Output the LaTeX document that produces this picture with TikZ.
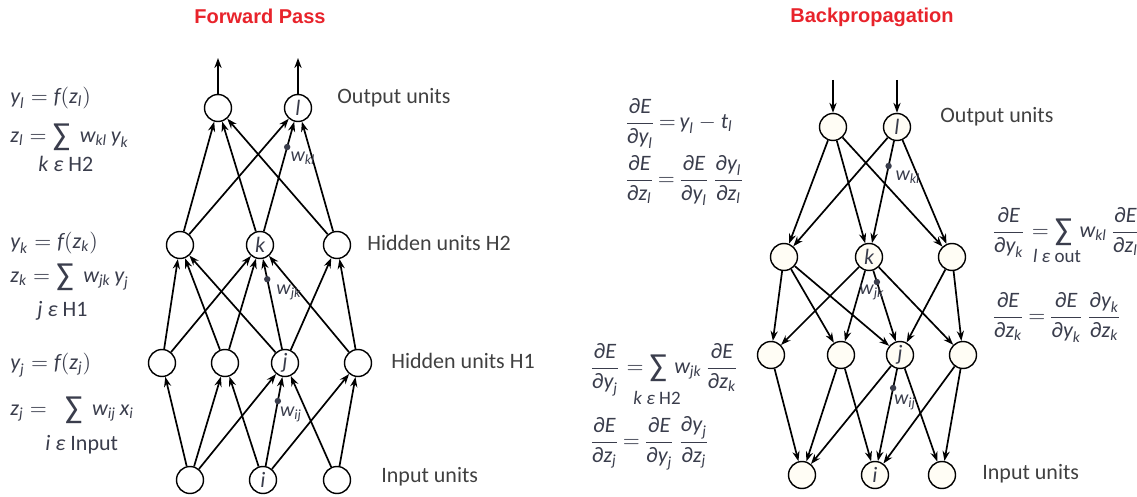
\documentclass[tikz,border=0pt]{standalone}
\usepackage{amsmath}
\usepackage{graphicx}
\usepackage{fontspec}
\setmainfont{Carlito}
\newfontfamily\titlefont{Liberation Sans}
\usetikzlibrary{arrows.meta}
\definecolor{eqc}{HTML}{3A3D4C}
\definecolor{labc}{HTML}{404040}
\definecolor{redt}{HTML}{E8232B}
\definecolor{cream}{HTML}{FFFDF5}
\newcommand\V[1]{\text{\itshape #1}}
\newcommand\pd{\text{\upshape ∂}}
\newcommand\Sum{\mathop{\vcenter{\hbox{\fontsize{16}{16}\selectfont\upshape ∑}}}}
\newcommand\eqq{\mathrel{\mkern-2mu=\mkern-2mu}}
\begin{document}
\begin{tikzpicture}[x=0.5pt,y=-0.5pt,
  unit/.style={circle, draw, line width=0.7pt, minimum size=13.5pt, inner sep=0pt, fill=white, font=\fontsize{11}{13}\selectfont\itshape, text=eqc},
  bunit/.style={unit, fill=cream},
  edge/.style={line width=0.85pt, -{Stealth[length=5pt,width=3.6pt]}},
  lab/.style={font=\fontsize{11}{13}\selectfont, text=labc, anchor=west, inner sep=0pt},
  eq/.style={font=\fontsize{11}{13}\selectfont, text=eqc, anchor=west, inner sep=0pt},
  eqb/.style={font=\fontsize{11}{13}\selectfont, text=eqc, anchor=base west, inner sep=0pt},
  lim/.style={font=\fontsize{9.5}{11}\selectfont, text=eqc, inner sep=0pt},
  wdot/.style={circle, fill=eqc, inner sep=0pt, minimum size=3.2pt},
  wlab/.style={font=\fontsize{10}{12}\selectfont, text=eqc, inner sep=0pt},
  ttl/.style={font=\titlefont\bfseries\fontsize{10}{12}\selectfont, text=redt, inner sep=0pt}]
\useasboundingbox (0,0) rectangle (1137,497);

% titles
\node[ttl] (t1) at (260,16) {Forward Pass};
\node[ttl] (t2) at (872,17) {Backpropagation};

% ---------------- forward network ----------------
\node[unit] (fo1) at (218,108) {};
\node[unit] (fol) at (298,108) {l};
\node[unit] (fh1) at (180,245) {};
\node[unit] (fk)  at (260,245) {k};
\node[unit] (fh3) at (337,245) {};
\node[unit] (fg1) at (162,363) {};
\node[unit] (fg2) at (225,363) {};
\node[unit] (fj)  at (285,363) {j};
\node[unit] (fg4) at (358,363) {};
\node[unit] (fi1) at (190,480) {};
\node[unit] (fi)  at (263,480) {i};
\node[unit] (fi3) at (337,480) {};
\coordinate (fa1) at (218,58);
\coordinate (fa2) at (298,58);
\draw[edge] (fo1) -- (fa1);
\draw[edge] (fol) -- (fa2);
\foreach \a in {fh1,fk,fh3}{\foreach \b in {fo1,fol}{\draw[edge] (\a) -- (\b);}}
\foreach \a/\b in {fg1/fh1,fg1/fk,fg2/fh1,fg2/fk,fj/fh1,fj/fk,fj/fh3,fg4/fk,fg4/fh3}{\draw[edge] (\a) -- (\b);}
\foreach \a/\b in {fi1/fg1,fi1/fg2,fi1/fj,fi/fg2,fi/fj,fi/fg4,fi3/fj,fi3/fg4}{\draw[edge] (\a) -- (\b);}
\path (fk.center) -- (fol.center) coordinate[pos=0.715] (fdkl);
\path (fj.center) -- (fk.center) coordinate[pos=0.71] (fdjk);
\path (fi.center) -- (fj.center) coordinate[pos=0.675] (fdij);
\node[wdot] at (fdkl) {};
\node[wdot] at (fdjk) {};
\node[wdot] at (fdij) {};
\node[wlab] (fwkl) at (303,158) {$\V{w}_{\V{kl}}$};
\node[wlab] (fwjk) at (289,292) {$\V{w}_{\V{jk}}$};
\node[wlab] (fwij) at (291,414) {$\V{w}_{\V{ij}}$};

\node[lab] (lo) at (337,98) {Output units};
\node[lab] (lh2) at (367,243) {Hidden units H2};
\node[lab] (lh1) at (391,361) {Hidden units H1};
\node[lab] (li) at (381,477) {Input units};

% forward equations
\node[eq] (e1) at (10,98) {$\V{y}_{\V{l}} = \V{f}(\V{z}_{\V{l}})$};
\node[eq] (e2) at (10,137) {$\V{z}_{\V{l}} = \Sum\;\V{w}_{\V{kl}}\,\V{y}_{\V{k}}$};
\node[eq] (e3) at (38,164) {\itshape k ε \upshape H2};
\node[eq] (e4) at (10,243) {$\V{y}_{\V{k}} = \V{f}(\V{z}_{\V{k}})$};
\node[eq] (e5) at (10,277) {$\V{z}_{\V{k}} = \Sum\;\V{w}_{\V{jk}}\,\V{y}_{\V{j}}$};
\node[eq] (e6) at (37,311) {\itshape j ε \upshape H1};
\node[eq] (e7) at (10,365) {$\V{y}_{\V{j}} = \V{f}(\V{z}_{\V{j}})$};
\node[eq] (e8) at (10,410) {$\V{z}_{\V{j}} =\;\;\Sum\;\V{w}_{\V{ij}}\,\V{x}_{\V{i}}$};
\node[eq] (e9) at (45,445) {\itshape i ε \upshape Input};

% ---------------- backward network ----------------
\node[bunit] (bo1) at (833,127) {};
\node[bunit] (bol) at (897,127) {l};
\node[bunit] (bh1) at (784,257) {};
\node[bunit] (bk)  at (869,257) {k};
\node[bunit] (bh3) at (952,257) {};
\node[bunit] (bg1) at (771,355) {};
\node[bunit] (bg2) at (841,355) {};
\node[bunit] (bj)  at (900,355) {j};
\node[bunit] (bg4) at (963,355) {};
\node[bunit] (bi1) at (802,475) {};
\node[bunit] (bi)  at (875,475) {i};
\node[bunit] (bi3) at (942,475) {};
\coordinate (ba1) at (833,80);
\coordinate (ba2) at (897,80);
\draw[edge] (ba1) -- (bo1);
\draw[edge] (ba2) -- (bol);
\foreach \a in {bh1,bk,bh3}{\foreach \b in {bo1,bol}{\draw[edge] (\b) -- (\a);}}
\foreach \a/\b in {bg1/bh1,bg1/bk,bg2/bh1,bg2/bk,bj/bh1,bj/bk,bj/bh3,bg4/bk,bg4/bh3}{\draw[edge] (\b) -- (\a);}
\foreach \a/\b in {bi1/bg1,bi1/bg2,bi1/bj,bi/bg2,bi/bj,bi/bg4,bi3/bj,bi3/bg4}{\draw[edge] (\b) -- (\a);}
\path (bol.center) -- (bk.center) coordinate[pos=0.3] (bdkl);
\path (bk.center) -- (bj.center) coordinate[pos=0.255] (bdjk);
\path (bj.center) -- (bi.center) coordinate[pos=0.275] (bdij);
\node[wdot] at (bdkl) {};
\node[wdot] at (bdjk) {};
\node[wdot] at (bdij) {};
\node[wlab] (bwkl) at (908,177) {$\V{w}_{\V{kl}}$};
\node[wlab] (bwjk) at (872,292) {$\V{w}_{\V{jk}}$};
\node[wlab] (bwij) at (905,402) {$\V{w}_{\V{ij}}$};

\node[lab] (bo) at (940,117) {Output units};
\node[lab] (bin) at (982,474) {Input units};

% backward equations
\node[eqb] (r1) at (624,128.5) {$\dfrac{\pd\V{E}}{\pd\V{y}_{\V{l}}} \eqq \V{y}_{\V{l}} - \V{t}_{\V{l}}$};
\node[eqb] (r2) at (624,185.5) {$\dfrac{\pd\V{E}}{\pd\V{z}_{\V{l}}} \eqq \dfrac{\pd\V{E}}{\pd\V{y}_{\V{l}}}\,\dfrac{\pd\V{y}_{\V{l}}}{\pd\V{z}_{\V{l}}}$};
\node[eqb] (r3) at (991,237.5) {$\dfrac{\pd\V{E}}{\pd\V{y}_{\V{k}}} = \Sum\,\V{w}_{\V{kl}}\,\dfrac{\pd\V{E}}{\pd\V{z}_{\V{l}}}$};
\node[lim] (r3l) at (1057,256) {\itshape l ε \upshape out};
\node[eqb] (r4) at (991,322.5) {$\dfrac{\pd\V{E}}{\pd\V{z}_{\V{k}}} \eqq \dfrac{\pd\V{E}}{\pd\V{y}_{\V{k}}}\,\dfrac{\pd\V{y}_{\V{k}}}{\pd\V{z}_{\V{k}}}$};
\node[eqb] (r5) at (589,373.5) {$\dfrac{\pd\V{E}}{\pd\V{y}_{\V{j}}} = \Sum\,\V{w}_{\V{jk}}\,\dfrac{\pd\V{E}}{\pd\V{z}_{\V{k}}}$};
\node[lim] (r5l) at (657,398) {\itshape k ε \upshape H2};
\node[eqb] (r6) at (589,447.5) {$\dfrac{\pd\V{E}}{\pd\V{z}_{\V{j}}} \eqq \dfrac{\pd\V{E}}{\pd\V{y}_{\V{j}}}\,\dfrac{\pd\V{y}_{\V{j}}}{\pd\V{z}_{\V{j}}}$};
\end{tikzpicture}
\end{document}
